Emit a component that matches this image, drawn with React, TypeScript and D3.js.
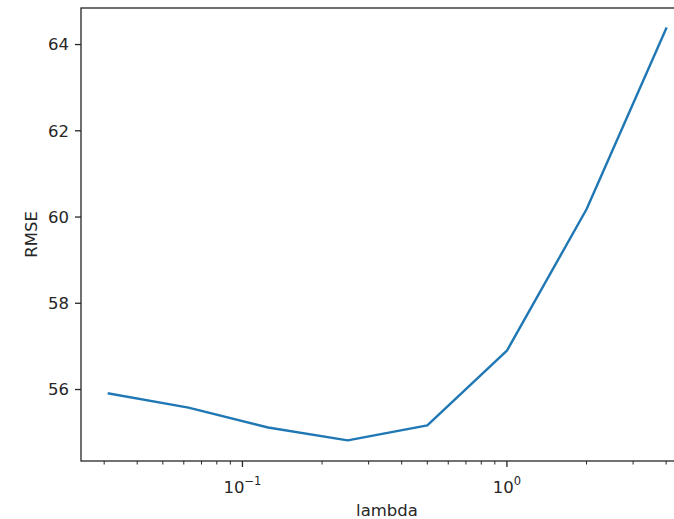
import React from 'react';
import * as d3 from 'd3';

const lambdas = [0.03125, 0.0625, 0.125, 0.25, 0.5, 1, 2, 4];
const rmse = [55.91, 55.58, 55.12, 54.82, 55.17, 56.9, 60.18, 64.37];
const yTicks = [56, 58, 60, 62, 64];
const xMajor = [{ v: 0.1, exp: '−1' }, { v: 1, exp: '0' }];

const W = 674, H = 519;
const left = 81, right = 694, top = 8, bottom = 461;
const font = 'DejaVu Sans, sans-serif';
const fs = 16.5;

export default function App() {
  // matplotlib-style 5% margins
  const lx = d3.extent(lambdas.map(Math.log10)) as [number, number];
  const mx = (lx[1] - lx[0]) * 0.05;
  const x = d3.scaleLog().domain([10 ** (lx[0] - mx), 10 ** (lx[1] + mx)]).range([left, right]);
  const ly = d3.extent(rmse) as [number, number];
  const my = (ly[1] - ly[0]) * 0.05;
  const y = d3.scaleLinear().domain([ly[0] - my, ly[1] + my]).range([bottom, top]);

  const line = d3.line<number>().x((d, i) => x(lambdas[i])).y(d => y(d));

  const minor: number[] = [];
  for (let e = -2; e <= 1; e++) {
    for (let m = 2; m <= 9; m++) {
      const v = m * 10 ** e;
      if (v >= x.domain()[0] && v <= x.domain()[1]) minor.push(v);
    }
  }

  return (
    <svg width={W} height={H} style={{ position: 'absolute', left: 0, top: 0, background: '#fff', overflow: 'hidden' }}>
      <path d={line(rmse) || ''} fill="none" stroke="#1f77b4" strokeWidth={2.4} strokeLinejoin="round" strokeLinecap="square" />
      <rect x={left} y={top} width={right - left} height={bottom - top} fill="none" stroke="#262626" strokeWidth={1.3} />
      {yTicks.map(t => (
        <g key={t}>
          <line x1={left - 6} x2={left} y1={y(t)} y2={y(t)} stroke="#262626" strokeWidth={1.3} />
          <text x={left - 12} y={y(t)} dy="0.36em" textAnchor="end" fontFamily={font} fontSize={fs} fill="#262626">{t}</text>
        </g>
      ))}
      {minor.map(v => (
        <line key={v} x1={x(v)} x2={x(v)} y1={bottom} y2={bottom + 3.5} stroke="#262626" strokeWidth={1} />
      ))}
      {xMajor.map(t => (
        <g key={t.v}>
          <line x1={x(t.v)} x2={x(t.v)} y1={bottom} y2={bottom + 6} stroke="#262626" strokeWidth={1.3} />
          <text x={x(t.v)} y={493} textAnchor="middle" fontFamily={font} fontSize={fs} fill="#262626">
            10<tspan dy={-8} fontSize={11.5}>{t.exp}</tspan>
          </text>
        </g>
      ))}
      <text x={387} y={516} textAnchor="middle" fontFamily={font} fontSize={fs} fill="#262626">lambda</text>
      <text transform={`translate(37, ${(top + bottom) / 2}) rotate(-90)`} textAnchor="middle" fontFamily={font} fontSize={fs} fill="#262626">RMSE</text>
    </svg>
  );
}
